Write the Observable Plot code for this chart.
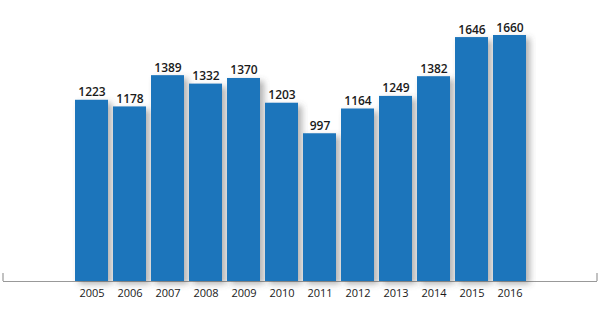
<!DOCTYPE html>
<html><head><meta charset="utf-8">
<script src="https://cdn.jsdelivr.net/npm/d3@7"></script>
<script src="https://cdn.jsdelivr.net/npm/@observablehq/plot@0.6"></script>
<style>
body{margin:0;background:#fff;}
#chart svg{font-family:"Open Sans",sans-serif;}
</style></head>
<body><div id="chart"></div>
<script>
const years = ["2005","2006","2007","2008","2009","2010","2011","2012","2013","2014","2015","2016"];
const values = [1223,1178,1389,1332,1370,1203,997,1164,1249,1382,1646,1660];
const data = years.map((y,i)=>({year:y, value:values[i]}));

const plot = Plot.plot({
  width:600, height:326,
  marginLeft:75, marginRight:73, marginTop:35, marginBottom:45,
  x:{domain:years, paddingInner:0.13, paddingOuter:0, label:null, tickSize:0, tickPadding:8},
  y:{domain:[0,1660], axis:null},
  style:{fontFamily:"'Open Sans', sans-serif", fontSize:"11px", color:"#1a1a1a"},
  marks:[
    Plot.ruleY([0],{stroke:"#999", strokeWidth:1.2, insetLeft:-72, insetRight:-70}),
    Plot.barY(data,{x:"year", y:"value", fill:"#1b75bb"}),
    Plot.text(data,{x:"year", y:"value", text:d=>String(d.value), lineAnchor:"bottom", dy:-4, fontWeight:600, fontSize:12, fill:"#1a1a1a"})
  ]
});
const svg = d3.select(plot);
const defs = svg.insert("defs",":first-child");
const f = defs.append("filter").attr("id","shadow").attr("x","-20%").attr("y","-20%").attr("width","150%").attr("height","150%");
f.append("feDropShadow").attr("dx",4).attr("dy",3).attr("stdDeviation",3).attr("flood-color","#555").attr("flood-opacity",0.45);
svg.selectAll("g[aria-label='bar'] rect").attr("filter","url(#shadow)");
// end ticks of the baseline
const yS = plot.scale("y");
const y0 = yS.apply(0);
const xr = plot.scale("x").range;
[xr[0]-72, xr[1]+70].forEach(xx=>{
  svg.append("line").attr("x1",xx).attr("x2",xx).attr("y1",y0-8).attr("y2",y0).attr("stroke","#999").attr("stroke-width",1.2);
});
document.getElementById("chart").appendChild(plot);
</script></body></html>
